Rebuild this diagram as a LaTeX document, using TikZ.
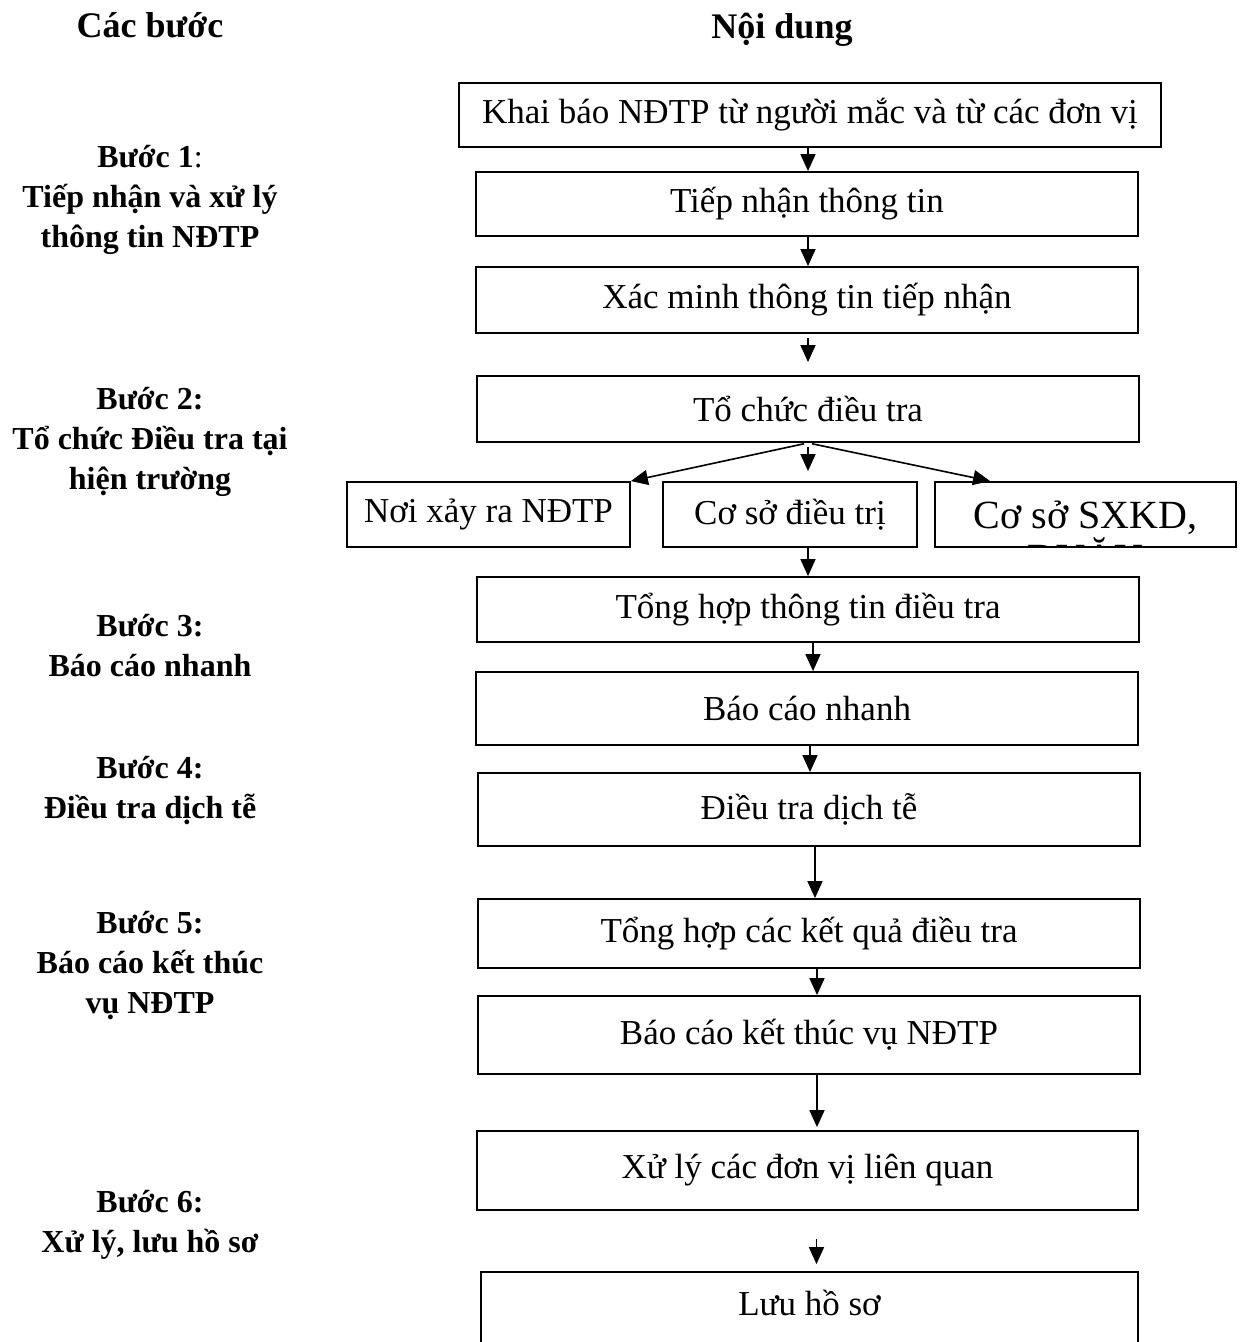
\documentclass[tikz,border=0pt]{standalone}
\usepackage{fontspec}
\setmainfont{Liberation Serif}
\usepackage{tikz}
\usetikzlibrary{arrows.meta}

\tikzset{
  box/.style={draw, line width=1.8pt, inner sep=0pt, minimum width=662pt,
    font=\fontsize{35}{40}\selectfont},
  arr/.style={-{Triangle[length=17pt,width=15pt]}, line width=1.6pt},
  steplabel/.style={align=center, font=\bfseries\fontsize{32}{40}\selectfont},
  title/.style={font=\bfseries\fontsize{36}{42}\selectfont},
}

\begin{document}
\begin{tikzpicture}[x=1pt,y=-1pt]
\useasboundingbox (0,0) rectangle (1246,1342);
\clip (0,0) rectangle (1246,1342);

    \node[title] (cacbuoc) at (150,25) {Các bước};
    \node[title] (noidung) at (782,30) {Nội dung};

    \node[steplabel] (buoc1) at (150,200) {Bước 1\textmd{:}\\Tiếp nhận và xử lý\\thông tin NĐTP};
    \node[steplabel] (buoc2) at (150,442) {Bước 2:\\Tổ chức Điều tra tại\\hiện trường};
    \node[steplabel] (buoc3) at (150,646) {Bước 3:\\Báo cáo nhanh};
    \node[steplabel] (buoc4) at (150,791) {Bước 4:\\Điều tra dịch tễ};
    \node[steplabel] (buoc5) at (150,966) {Bước 5:\\Báo cáo kết thúc\\vụ NĐTP};
    \node[steplabel] (buoc6) at (150,1225) {Bước 6:\\Xử lý, lưu hồ sơ};

    \node[box, minimum width=702pt, minimum height=64pt] (khaibao) at (810,115) {Khai báo NĐTP từ người mắc và từ các đơn vị};
    \node[box, minimum height=64pt] (tiepnhan) at (807,204) {Tiếp nhận thông tin};
    \node[box, minimum height=66pt] (xacminh) at (807,300) {Xác minh thông tin tiếp nhận};
    \node[box, minimum height=66pt] (tochuc) at (808,409) {Tổ chức điều tra};

    \node[box, minimum width=283pt, minimum height=65pt] (noixayra) at (488.5,514.5) {Nơi xảy ra NĐTP};
    \node[box, minimum width=254pt, minimum height=65pt] (coso) at (790,514.5) {Cơ sở điều trị};
    \node[box, minimum width=301pt, minimum height=65pt] (sxkd) at (1085.5,514.5) {};
    \begin{scope}
    \clip (sxkd.south west) rectangle (sxkd.north east);
    \node[anchor=base, align=center, font=\fontsize{40}{43}\selectfont] (sxkdtext) at (1085.5,571) {Cơ sở SXKD,\\DVĂU};
    \end{scope}

    \node[box, minimum height=65pt] (tonghop) at (808,609.5) {Tổng hợp thông tin điều tra};
    \node[box, minimum height=73pt] (baocao) at (807,708.5) {Báo cáo nhanh};
    \node[box, minimum height=73pt] (dieutra) at (809,809.5) {Điều tra dịch tễ};
    \node[box, minimum height=69pt] (ketqua) at (809,933.5) {Tổng hợp các kết quả điều tra};
    \node[box, minimum height=78pt] (ketthuc) at (809,1035) {Báo cáo kết thúc vụ NĐTP};
    \node[box, minimum width=661pt, minimum height=79pt] (xuly) at (807.5,1170.5) {Xử lý các đơn vị liên quan};
    \node[box, minimum width=657pt, anchor=base, text height=43pt, text depth=70pt] (luu) at (809.5,1315) {Lưu hồ sơ};

    % draw the arrows
    \draw[arr] (khaibao.south -| tochuc.south) -- (tiepnhan.north -| tochuc.south);
    \draw[arr] (tiepnhan.south -| tochuc.south) -- (xacminh.north -| tochuc.south);
    \draw[arr, shorten <=4pt, shorten >=13pt] (xacminh.south -| tochuc.south) -- (tochuc.north);
    \draw[arr, shorten <=4pt] (tochuc.south) -- (noixayra.north east);
    \draw[arr, shorten <=4pt, shorten >=10pt] (tochuc.south) -- (tochuc.south |- coso.north);
    \draw[arr, shorten <=4pt] (tochuc.south) -- ([xshift=56pt]sxkd.north west);
    \draw[arr] (tochuc.south |- coso.south) -- (tochuc.south |- tonghop.north);
    \draw[arr] ([xshift=5pt]tonghop.south) -- ([xshift=5pt]tonghop.south |- baocao.north);
    \draw[arr] ([xshift=3pt]baocao.south) -- ([xshift=3pt]baocao.south |- dieutra.north);
    \draw[arr] ([xshift=6pt]dieutra.south) -- ([xshift=6pt]dieutra.south |- ketqua.north);
    \draw[arr] ([xshift=8pt]ketqua.south) -- ([xshift=8pt]ketqua.south |- ketthuc.north);
    \draw[arr, shorten >=3pt] ([xshift=8pt]ketthuc.south) -- ([xshift=8pt]ketthuc.south |- xuly.north);
    \draw[arr, shorten <=28pt, shorten >=7pt] ([xshift=9pt]xuly.south) -- ([xshift=9pt]xuly.south |- luu.north);

\end{tikzpicture}
\end{document}
